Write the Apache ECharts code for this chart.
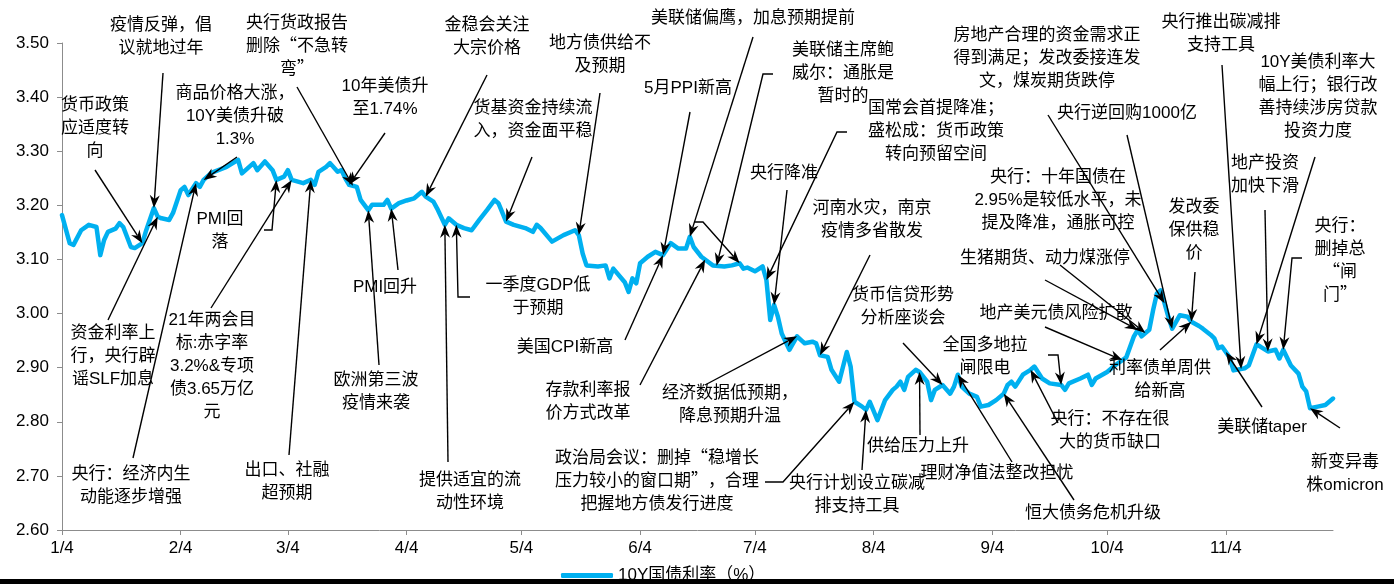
<!DOCTYPE html>
<html>
<head>
<meta charset="utf-8">
<script src="https://cdn.jsdelivr.net/npm/echarts@6/dist/echarts.min.js"></script>
<style>
  html, body { margin: 0; padding: 0; background: #fff; }
  #chart { width: 1394px; height: 584px; }
</style>
</head>
<body>
<div id="chart"></div>
<script>
// 10Y government bond yield, 2021
const dates = [
  '2021-01-04','2021-01-06','2021-01-07','2021-01-09','2021-01-11','2021-01-13','2021-01-14','2021-01-15','2021-01-16','2021-01-18',
  '2021-01-19','2021-01-20','2021-01-22','2021-01-23','2021-01-25','2021-01-26','2021-01-28','2021-01-29','2021-01-30','2021-02-01',
  '2021-02-02','2021-02-04','2021-02-05','2021-02-06','2021-02-08','2021-02-09','2021-02-10','2021-02-12','2021-02-16','2021-02-19',
  '2021-02-20','2021-02-23','2021-02-24','2021-02-26','2021-02-28','2021-03-01','2021-03-03','2021-03-04','2021-03-05','2021-03-08',
  '2021-03-10','2021-03-11','2021-03-12','2021-03-14','2021-03-15','2021-03-17','2021-03-18','2021-03-19','2021-03-20','2021-03-22',
  '2021-03-23','2021-03-25','2021-03-26','2021-03-28','2021-03-29','2021-03-30','2021-03-31','2021-04-02','2021-04-04','2021-04-06',
  '2021-04-08','2021-04-09','2021-04-11','2021-04-12','2021-04-14','2021-04-15','2021-04-17','2021-04-19','2021-04-21','2021-04-23',
  '2021-04-25','2021-04-27','2021-04-28','2021-04-30','2021-05-02','2021-05-05','2021-05-07','2021-05-08','2021-05-09','2021-05-12',
  '2021-05-15','2021-05-18','2021-05-19','2021-05-20','2021-05-21','2021-05-24','2021-05-26','2021-05-27','2021-05-28','2021-05-31',
  '2021-06-01','2021-06-02','2021-06-03','2021-06-04','2021-06-06','2021-06-08','2021-06-10','2021-06-12','2021-06-14','2021-06-16',
  '2021-06-17','2021-06-18','2021-06-20','2021-06-23','2021-06-26','2021-06-28','2021-06-30','2021-07-01','2021-07-02','2021-07-04',
  '2021-07-06','2021-07-07','2021-07-08','2021-07-09','2021-07-10','2021-07-11','2021-07-13','2021-07-15','2021-07-17','2021-07-19',
  '2021-07-20','2021-07-21','2021-07-23','2021-07-24','2021-07-26','2021-07-28','2021-07-29','2021-07-30','2021-08-01','2021-08-02',
  '2021-08-03','2021-08-05','2021-08-07','2021-08-09','2021-08-10','2021-08-11','2021-08-12','2021-08-13','2021-08-15','2021-08-16',
  '2021-08-18','2021-08-19','2021-08-20','2021-08-22','2021-08-24','2021-08-25','2021-08-26','2021-08-27','2021-08-29','2021-08-31',
  '2021-09-01','2021-09-03','2021-09-05','2021-09-07','2021-09-08','2021-09-09','2021-09-10','2021-09-12','2021-09-14','2021-09-15',
  '2021-09-17','2021-09-19','2021-09-22','2021-09-23','2021-09-24','2021-09-27','2021-09-29','2021-09-30','2021-10-01','2021-10-04',
  '2021-10-06','2021-10-09','2021-10-11','2021-10-12','2021-10-13','2021-10-15','2021-10-16','2021-10-17','2021-10-18','2021-10-19',
  '2021-10-20','2021-10-21','2021-10-23','2021-10-25','2021-10-26','2021-10-28','2021-10-29','2021-10-31','2021-11-01','2021-11-02',
  '2021-11-03','2021-11-05','2021-11-06','2021-11-09','2021-11-10','2021-11-12','2021-11-13','2021-11-15','2021-11-17','2021-11-18',
  '2021-11-19','2021-11-21','2021-11-23','2021-11-24','2021-11-25','2021-11-26','2021-11-28','2021-11-30','2021-12-02'
];
const yields = [
  3.182,3.130,3.127,3.154,3.164,3.160,3.108,3.136,3.151,3.157,
  3.167,3.160,3.123,3.121,3.130,3.154,3.195,3.179,3.176,3.173,
  3.186,3.228,3.234,3.219,3.241,3.234,3.247,3.260,3.271,3.284,
  3.259,3.278,3.265,3.281,3.265,3.247,3.253,3.265,3.247,3.241,
  3.247,3.238,3.262,3.271,3.278,3.262,3.265,3.250,3.238,3.234,
  3.210,3.191,3.201,3.201,3.201,3.210,3.194,3.204,3.209,3.213,
  3.225,3.216,3.207,3.194,3.164,3.176,3.164,3.158,3.154,3.173,
  3.191,3.210,3.204,3.170,3.164,3.158,3.151,3.164,3.158,3.133,
  3.145,3.154,3.145,3.111,3.089,3.087,3.089,3.065,3.083,3.058,
  3.040,3.065,3.056,3.093,3.105,3.114,3.108,3.130,3.120,3.120,
  3.142,3.123,3.105,3.089,3.087,3.089,3.093,3.083,3.085,3.078,
  3.087,3.062,2.988,3.016,2.994,2.963,2.933,2.958,2.945,2.948,
  2.945,2.923,2.920,2.896,2.874,2.929,2.902,2.837,2.828,2.822,
  2.837,2.803,2.840,2.859,2.865,2.874,2.859,2.883,2.896,2.892,
  2.874,2.840,2.859,2.868,2.852,2.865,2.887,2.865,2.852,2.846,
  2.828,2.831,2.840,2.852,2.868,2.874,2.865,2.887,2.896,2.902,
  2.880,2.871,2.868,2.859,2.871,2.880,2.887,2.868,2.880,2.892,
  2.904,2.919,2.958,2.970,2.958,2.970,3.006,3.037,3.043,3.019,
  2.994,2.972,2.997,2.994,2.985,2.977,2.972,2.961,2.954,2.936,
  2.939,2.919,2.895,2.899,2.904,2.943,2.939,2.930,2.933,2.917,
  2.933,2.904,2.889,2.865,2.856,2.825,2.828,2.831,2.843
];
const tickDates = ['2021-01-04','2021-02-04','2021-03-04','2021-04-04','2021-05-04','2021-06-04',
                   '2021-07-04','2021-08-04','2021-09-04','2021-10-04','2021-11-04'];
const seriesName = '10Y国债利率（%）';

// Event notes and the dates each of their arrows points at
const eventLabels = [
  '货币政策\n应适度转\n向',
  '疫情反弹，倡\n议就地过年',
  '资金利率上\n行，央行辟\n谣SLF加息',
  '央行：经济内生\n动能逐步增强',
  '商品价格大涨，\n10Y美债升破\n1.3%',
  'PMI回\n落',
  '21年两会目\n标:赤字率\n3.2%&专项\n债3.65万亿\n元',
  '出口、社融\n超预期',
  '央行货政报告\n删除“不急转\n弯”',
  '10年美债升\n至1.74%',
  '欧洲第三波\n疫情来袭',
  'PMI回升',
  '金稳会关注\n大宗价格',
  '货基资金持续流\n入，资金面平稳',
  '地方债供给不\n及预期',
  '一季度GDP低\n于预期',
  '提供适宜的流\n动性环境',
  '5月PPI新高',
  '美国CPI新高',
  '美联储偏鹰，加息预期提前',
  '美联储主席鲍\n威尔：通胀是\n暂时的',
  '存款利率报\n价方式改革',
  '经济数据低预期，\n降息预期升温',
  '国常会首提降准；\n盛松成：货币政策\n转向预留空间',
  '央行降准',
  '河南水灾，南京\n疫情多省散发',
  '政治局会议：删掉“稳增长\n压力较小的窗口期”，合理\n把握地方债发行进度',
  '央行计划设立碳减\n排支持工具',
  '供给压力上升',
  '货币信贷形势\n分析座谈会',
  '理财净值法整改担忧',
  '全国多地拉\n闸限电',
  '恒大债务危机升级',
  '央行：不存在很\n大的货币缺口',
  '地产美元债风险扩散',
  '生猪期货、动力煤涨停',
  '房地产合理的资金需求正\n得到满足；发改委接连发\n文，煤炭期货跌停',
  '央行逆回购1000亿',
  '央行：十年国债在\n2.95%是较低水平，未\n提及降准，通胀可控',
  '发改委\n保供稳\n价',
  '利率债单周供\n给新高',
  '央行推出碳减排\n支持工具',
  '10Y美债利率大\n幅上行；银行改\n善持续涉房贷款\n投资力度',
  '地产投资\n加快下滑',
  '央行：\n删掉总\n“闸\n门”',
  '美联储taper',
  '新变异毒\n株omicron'
];
const eventDates = [
  ['2021-01-25'], ['2021-01-28'], ['2021-01-29'], ['2021-02-08'], ['2021-02-10'],
  ['2021-03-01'], ['2021-03-05'], ['2021-03-10'], ['2021-03-21'], ['2021-03-20'],
  ['2021-03-25'], ['2021-03-31'], ['2021-04-09'], ['2021-04-30'], ['2021-05-19'],
  ['2021-04-17'], ['2021-04-14'], ['2021-06-10'], ['2021-06-10'], ['2021-06-17', '2021-06-30'],
  ['2021-06-24'], ['2021-06-21'], ['2021-07-15'], ['2021-07-07'], ['2021-07-09'],
  ['2021-07-21'], ['2021-07-30'], ['2021-08-02'], ['2021-08-16'], ['2021-08-22'],
  ['2021-08-26'], ['2021-09-22'], ['2021-09-07'], ['2021-09-14'], ['2021-10-08'],
  ['2021-10-14', '2021-10-12'], [], ['2021-10-19', '2021-10-21'], [], ['2021-10-26'],
  ['2021-10-26'], ['2021-11-08'], ['2021-11-12'], ['2021-11-15'], ['2021-11-19'],
  ['2021-11-04'], ['2021-11-26']
];

// Layout: centre x and middle of first text line, in pixels
const labelBoxes = [
  [95,105],[161,25],[113,333],[131,474],[235,93],
  [220,219],[212,320],[287,470],[297,22],[385,86],
  [376,380],[385,287],[487,25],[533,108],[600,43],
  [538,285],[470,480],[688,88],[565,347],[753,18],
  [843,50],[588,390],[730,393],[936,108],[784,173],
  [872,208],[657,457],[857,483],[918,446],[903,295],
  [997,473],[985,345],[1093,513],[1110,419],[1056,313],
  [1045,258],[1047,35],[1127,113],[1058,177],[1194,207],
  [1160,368],[1221,22],[1318,62],[1265,163],[1340,225],
  [1262,427],[1345,462]
];
// Layout: tail (and elbow) points of each arrow, in pixels
const arrowPaths = [
  [[[95,170]]], [[[163,73]]], [[[108,320]]], [[[133,458]]], [[[237,157]]],
  [[[264,230],[272,230]]], [[[211,308]]], [[[289,455]]], [[[297,87]]], [[[385,133]]],
  [[[379,365]]], [[[398,270]]], [[[487,75]]], [[[532,157]]], [[[600,93]]],
  [[[470,297],[458,297]]], [[[448,462]]], [[[690,112]]], [[[625,340]]], [[[753,37]], [[695,222],[703,222]]],
  [[[773,74],[763,74]]], [[[640,385]]], [[[705,385]]], [[[847,132],[837,132]]], [[[787,190]]],
  [[[870,255]]], [[[765,482],[783,482]]], [[[862,470]]], [[[920,435]]], [[[903,343]]],
  [[[1012,462]]], [[[1048,355],[1058,355]]], [[[1074,500]]], [[[1058,423]]], [[[1045,327]]],
  [[[1060,265]], [[1045,280]]], [], [[[1048,115]], [[1127,135]]], [], [[[1195,272]]],
  [[[1160,350]]], [[[1222,65]]], [[[1315,157]]], [[[1265,210]]], [[[1302,258],[1292,258]]],
  [[[1262,407]]], [[[1340,428]]]
];

const FONT = "'Liberation Sans', 'Noto Sans CJK SC', sans-serif";
const CJK_FONT = "'Noto Sans CJK SC', 'Liberation Sans', sans-serif";
const AXIS_COLOR = '#8c8c8c';
const LINE_COLOR = '#00B0F0';

function ts(s) {
  const p = s.split('-').map(Number);
  return Date.UTC(p[0], p[1] - 1, p[2]);
}
const xs = dates.map(ts);
const tickTs = tickDates.map(ts);

// yield on the drawn line at time t (linear between points)
function valueAt(t) {
  if (t <= xs[0]) return yields[0];
  for (let i = 1; i < xs.length; i++) {
    if (t <= xs[i]) {
      const f = (t - xs[i - 1]) / (xs[i] - xs[i - 1]);
      return yields[i - 1] + f * (yields[i] - yields[i - 1]);
    }
  }
  return yields[yields.length - 1];
}

const chart = echarts.init(document.getElementById('chart'), null, { renderer: 'canvas' });
chart.setOption({
  animation: false,
  backgroundColor: '#fff',
  grid: { left: 62, right: 61, top: 43, bottom: 54 },
  legend: {
    data: [seriesName], left: 556, top: 562, icon: 'roundRect',
    itemWidth: 52, itemHeight: 5, itemGap: 4,
    textStyle: { fontSize: 17, color: '#000', fontFamily: FONT }
  },
  xAxis: {
    type: 'value', min: xs[0], max: xs[xs.length - 1],
    splitLine: { show: false },
    axisLine: { lineStyle: { color: AXIS_COLOR, width: 1 } },
    axisTick: { customValues: tickTs, length: 5, lineStyle: { color: AXIS_COLOR } },
    axisLabel: {
      customValues: tickTs, margin: 10, fontSize: 17, color: '#000', fontFamily: FONT,
      formatter: v => { const d = new Date(v); return (d.getUTCMonth() + 1) + '/' + d.getUTCDate(); }
    }
  },
  yAxis: {
    type: 'value', min: 2.6, max: 3.5, interval: 0.1,
    splitLine: { show: false },
    axisLine: { show: true, lineStyle: { color: AXIS_COLOR, width: 1 } },
    axisTick: { show: true, length: 5, lineStyle: { color: AXIS_COLOR } },
    axisLabel: { formatter: v => v.toFixed(2), margin: 13, fontSize: 17, color: '#000', fontFamily: FONT }
  },
  series: [{
    name: seriesName, type: 'line', showSymbol: false, symbol: 'none',
    data: xs.map((t, i) => [t, yields[i]]),
    lineStyle: { color: LINE_COLOR, width: 4.5, cap: 'round', join: 'round' },
    itemStyle: { color: LINE_COLOR }
  }]
});

// Callout texts and arrows
const graphics = [{
  type: 'rect', silent: true, shape: { x: 0, y: 579, width: 1394, height: 5 }, style: { fill: '#000' }
}];
const HEAD_LEN = 13, HEAD_HALF = 5, NOTCH = 4;
eventLabels.forEach((txt, i) => {
  const [cx, cy] = labelBoxes[i];
  graphics.push({
    type: 'text', z: 100, silent: true,
    style: {
      text: txt, x: cx, y: cy - 11.5, align: 'center', textAlign: 'center',
      verticalAlign: 'top', textVerticalAlign: 'top',
      fontSize: 17, fontFamily: /[“”]/.test(txt) ? CJK_FONT : FONT, lineHeight: 23, fill: '#000'
    }
  });
  eventDates[i].forEach((dt, k) => {
    const t = ts(dt);
    const tip = chart.convertToPixel({ gridIndex: 0 }, [t, valueAt(t)]);
    const pts = arrowPaths[i][k].map(p => p.slice());
    const last = pts[pts.length - 1];
    let dx = tip[0] - last[0], dy = tip[1] - last[1];
    const len = Math.hypot(dx, dy) || 1;
    dx /= len; dy /= len;
    const bx = tip[0] - dx * HEAD_LEN, by = tip[1] - dy * HEAD_LEN;
    const nx = tip[0] - dx * (HEAD_LEN - NOTCH), ny = tip[1] - dy * (HEAD_LEN - NOTCH);
    pts.push([nx, ny]);
    graphics.push({
      type: 'polyline', z: 100, silent: true,
      shape: { points: pts },
      style: { stroke: '#000', lineWidth: 1.4, fill: null }
    });
    graphics.push({
      type: 'polygon', z: 100, silent: true,
      shape: { points: [tip, [bx - dy * HEAD_HALF, by + dx * HEAD_HALF], [nx, ny], [bx + dy * HEAD_HALF, by - dx * HEAD_HALF]] },
      style: { fill: '#000' }
    });
  });
});
chart.setOption({ graphic: graphics });
</script>
</body>
</html>
